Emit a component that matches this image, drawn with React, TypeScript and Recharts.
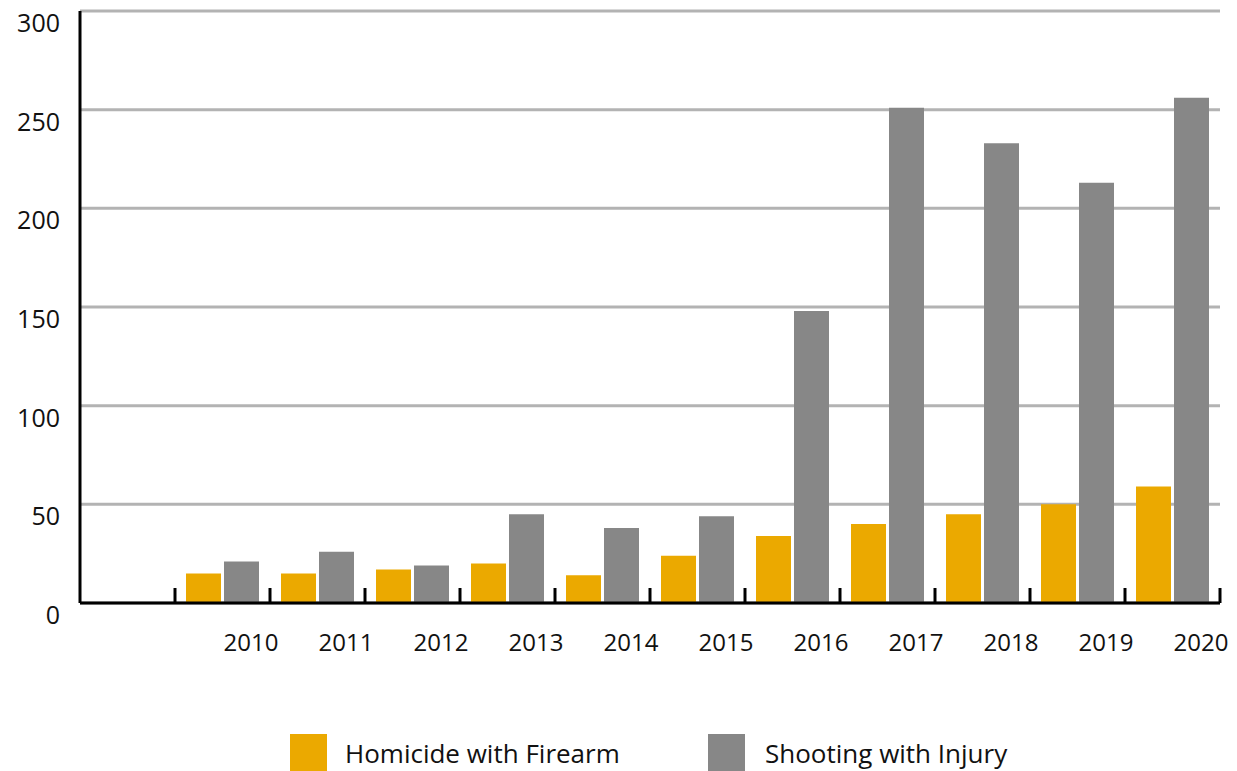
import React from "react"
import { BarChart, Bar, XAxis, YAxis, CartesianGrid, Legend } from "recharts"

const years = ["", "2010", "2011", "2012", "2013", "2014", "2015", "2016", "2017", "2018", "2019", "2020"]
const homicide = [null, 15, 15, 17, 20, 14, 24, 34, 40, 45, 50, 59]
const shooting = [null, 21, 26, 19, 45, 38, 44, 148, 251, 233, 213, 256]
const yTicks = [0, 50, 100, 150, 200, 250, 300]

const YELLOW = "#eba900"
const GRAY = "#878787"
const FONT = "'Open Sans', 'Noto Sans', sans-serif"

const data = years.map((year, i) => ({
  year,
  homicide: homicide[i],
  shooting: shooting[i],
}))

const XTick = (props: any) => {
  const { x, y, payload } = props
  const half = payload && payload.offset ? payload.offset : 47.5
  const edge = x + half
  return (
    <g>
      <line x1={edge} x2={edge} y1={y} y2={y - 15} stroke="#000" strokeWidth={3} />
      <text x={x + half * 0.6} y={y + 48} textAnchor="middle" fontSize={24} fill="#111" fontFamily={FONT}>
        {payload.value}
      </text>
    </g>
  )
}

const YTick = (props: any) => {
  const { y, payload } = props
  return (
    <text x={60} y={y + 21} textAnchor="end" fontSize={25} fill="#111" fontFamily={FONT}>
      {payload.value}
    </text>
  )
}

const LegendContent = () => (
  <div style={{ height: 60, position: "relative", fontFamily: FONT, fontSize: 26, color: "#111" }}>
    <div style={{ position: "absolute", left: 290, top: 23, display: "flex", alignItems: "center" }}>
      <span style={{ width: 37, height: 37, background: YELLOW, display: "inline-block", marginRight: 18 }} />
      <span>Homicide with Firearm</span>
    </div>
    <div style={{ position: "absolute", left: 708, top: 23, display: "flex", alignItems: "center" }}>
      <span style={{ width: 37, height: 37, background: GRAY, display: "inline-block", marginRight: 20 }} />
      <span>Shooting with Injury</span>
    </div>
  </div>
)

export default function App() {
  return (
    <div style={{ position: "absolute", left: 0, top: 0, background: "#fff" }}>
      <BarChart
        width={1237}
        height={771}
        data={data}
        margin={{ top: 11, right: 17, left: 0, bottom: 0 }}
        barCategoryGap={11}
        barGap={3}
      >
        <CartesianGrid vertical={false} stroke="#b3b3b3" strokeWidth={3} />
        <XAxis
          dataKey="year"
          interval={0}
          height={108}
          tickSize={0}
          tickMargin={0}
          tickLine={false}
          axisLine={{ stroke: "#000", strokeWidth: 3 }}
          tick={<XTick />}
        />
        <YAxis
          width={80}
          domain={[0, 300]}
          ticks={yTicks}
          tickLine={false}
          axisLine={{ stroke: "#000", strokeWidth: 3 }}
          tick={<YTick />}
        />
        <Legend verticalAlign="bottom" content={<LegendContent />} wrapperStyle={{ left: 0, width: 1237 }} />
        <Bar dataKey="homicide" name="Homicide with Firearm" fill={YELLOW} barSize={35} isAnimationActive={false} />
        <Bar dataKey="shooting" name="Shooting with Injury" fill={GRAY} barSize={35} isAnimationActive={false} />
      </BarChart>
    </div>
  )
}
